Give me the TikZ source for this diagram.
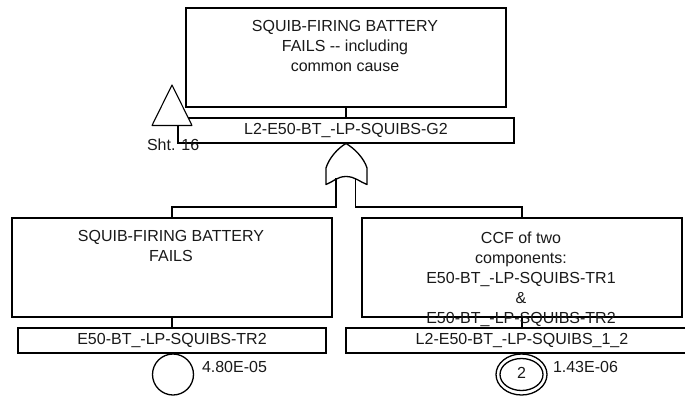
\documentclass[tikz,border=0pt]{standalone}
\usepackage{fontspec}
\usetikzlibrary{shapes.geometric}
\setmainfont{Liberation Sans}
\begin{document}
\begin{tikzpicture}[x=1pt,y=-1pt,
  every node/.style={inner sep=0pt,outer sep=0pt},
  ln/.style={draw=black,line width=1.3pt},
  lbl/.style={font=\fontsize{16pt}{20.2pt}\selectfont,text=black!90,align=center},
  descbox/.style={ln,fill=white,minimum width=320pt,minimum height=99pt},
  namebar/.style={ln,fill=white,minimum height=25pt}]
\useasboundingbox (0,0) rectangle (685,396);
% boxes
\node[descbox] (top) at (346,57.5) {};
\node[namebar,minimum width=336pt,lbl] (topbar) at (346,130.5) {L2-E50-BT\_-LP-SQUIBS-G2};
\draw[ln] (top.south) -- (topbar.north);
\node[descbox] (lb) at (172,267.5) {};
\node[namebar,minimum width=308pt,lbl] (lbar) at (172,340.5) {E50-BT\_-LP-SQUIBS-TR2};
\draw[ln] (lb.south) -- (lbar.north);
\node[descbox] (rb) at (522,267.5) {};
\node[namebar,minimum width=352pt,lbl] (rbar) at (522,340.5) {L2-E50-BT\_-LP-SQUIBS\_1\_2};
\draw[ln] (rb.south) -- (rbar.north);
% box texts
\node[lbl,anchor=north] (t1) at (345,20) {SQUIB-FIRING BATTERY\\FAILS -{}- including\\common cause};
\node[lbl,anchor=north] (t2) at (171,230) {SQUIB-FIRING BATTERY\\FAILS};
\node[lbl,anchor=north] (t3) at (521,231.5) {CCF of two\\components:\\E50-BT\_-LP-SQUIBS-TR1\\\&\\E50-BT\_-LP-SQUIBS-TR2};
% transfer stem and triangle
\coordinate (stem) at (178,143);
\draw[ln] (178,125) -- (stem);
\node[lbl,anchor=west] (sht) at (147,145) {Sht. 16};
\draw[line width=1.1pt,fill=white,line join=round] (172,85) -- (192,125.5) -- (152,125.5) -- cycle;
\draw[ln] (186,106.5) -- (192,106.5);
% gate connectors
\coordinate (gl) at (336,178);
\coordinate (gr) at (355.5,178);
\draw[ln] (gl) -- (336,207) -| (lb.north);
\draw[ln] (gr) -- (355.5,207) -| (rb.north);
% OR gate
\draw[ln,line join=round] (346,143.5)
  .. controls (338,148) and (329,158) .. (326,168)
  -- (326,184.5)
  .. controls (333,182) and (337,176.5) .. (346,176.5)
  .. controls (355,176.5) and (360,182) .. (367,184.5)
  -- (367,168)
  .. controls (364,158) and (354,148) .. (346,143.5) -- cycle;
% events
\node[ln,circle,minimum size=41pt] (e1) at (173,374.5) {};
\node[lbl,anchor=west] (p1) at (202,367) {4.80E-05};
\node[ln,ellipse,minimum width=51pt,minimum height=41pt] (e2) at (521.5,374.5) {};
\node[ln,ellipse,minimum width=43pt,minimum height=32pt] (e2i) at (521.5,374.5) {};
\node[lbl] (n2) at (521.5,373) {2};
\node[lbl,anchor=west] (p2) at (553,367) {1.43E-06};
\end{tikzpicture}
\end{document}
